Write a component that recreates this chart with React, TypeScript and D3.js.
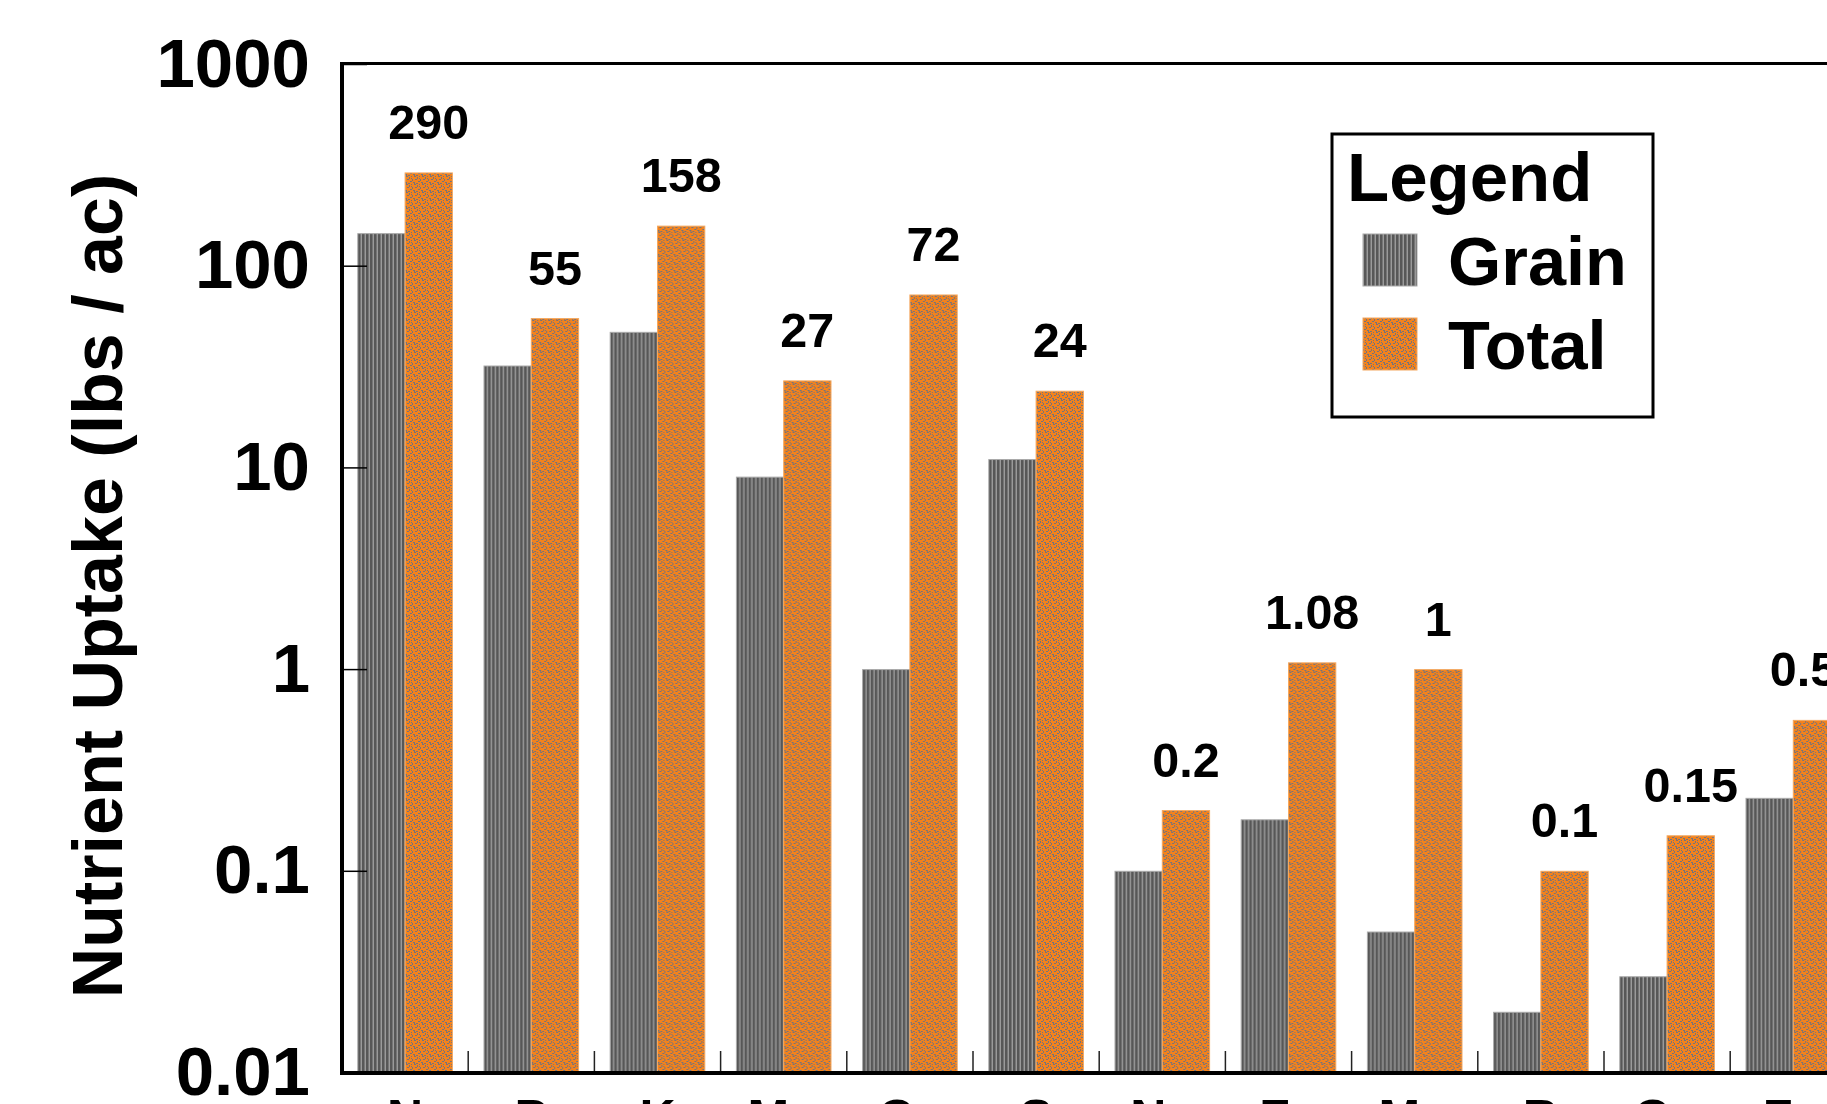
import React from "react";
import * as d3 from "d3";

// Nutrient uptake per element (lbs / ac), grain portion and whole-plant total
const categories = ["N", "P", "K", "Mg", "Ca", "S", "Na", "Fe", "Mn", "B", "Cu", "Zn"];
const grainValues = [145, 32, 47, 9, 1, 11, 0.1, 0.18, 0.05, 0.02, 0.03, 0.23];
const totalValues = [290, 55, 158, 27, 72, 24, 0.2, 1.08, 1, 0.1, 0.15, 0.56];
const seriesNames = ["Grain", "Total"];
const yTickValues = [1000, 100, 10, 1, 0.1, 0.01];
const yTickLabels = ["1000", "100", "10", "1", "0.1", "0.01"];

const W = 1827;
const H = 1104;
const FONT = "'Liberation Sans', Arial, Helvetica, sans-serif";

export default function App() {
  const left = 342;
  const step = 126.2;
  const x0 = d3
    .scaleBand<string>()
    .domain(categories)
    .range([left, left + step * categories.length])
    .padding(0);
  const x1 = d3
    .scaleBand<string>()
    .domain(seriesNames)
    .range([0, x0.bandwidth()])
    .paddingInner(0)
    .paddingOuter(0.334);
  const y = d3.scaleLog().domain([0.01, 1000]).range([1073, 64.5]);

  const plotRight = left + step * categories.length;
  const yTop = y(1000);
  const yBottom = y(0.01);

  const fills: Record<string, string> = { Grain: "url(#grainPat)", Total: "url(#totalPat)" };
  const edges: Record<string, string> = { Grain: "#a8a8a8", Total: "#f3a860" };

  const specks = [
    [0, 0, 2, 1], [3, 1, 1, 2], [5, 0, 1, 1], [1, 3, 2, 1], [6, 3, 1, 2],
    [4, 5, 2, 1], [0, 6, 1, 2], [2, 7, 2, 1], [7, 6, 1, 1], [5, 2, 1, 1],
  ];

  return (
    <svg
      width={W}
      height={H}
      style={{ position: "absolute", left: 0, top: 0, background: "#fff" }}
      fontFamily={FONT}
    >
      <defs>
        <pattern id="grainPat" width={4} height={4} patternUnits="userSpaceOnUse">
          <rect width={4} height={4} fill="#9a9a9a" shapeRendering="crispEdges" />
          <rect x={0} width={2} height={4} fill="#575757" shapeRendering="crispEdges" />
          <rect x={2} width={1} height={4} fill="#767676" shapeRendering="crispEdges" />
        </pattern>
        <pattern id="totalPat" width={8} height={8} patternUnits="userSpaceOnUse">
          <rect width={8} height={8} fill="#f3821c" shapeRendering="crispEdges" />
          {specks.map(([sx, sy, sw, sh], i) => (
            <rect key={i} x={sx} y={sy} width={sw} height={sh} fill="#76737a" shapeRendering="crispEdges" />
          ))}
        </pattern>
      </defs>

      {/* bars */}
      {categories.map((c, i) => {
        const vals: Record<string, number> = { Grain: grainValues[i], Total: totalValues[i] };
        return (
          <g key={c} transform={`translate(${x0(c)},0)`}>
            {seriesNames.map((s) => (
              <rect
                key={s}
                x={x1(s)}
                y={y(vals[s])}
                width={x1.bandwidth()}
                height={yBottom - y(vals[s])}
                fill={fills[s]}
                stroke={edges[s]}
                strokeWidth={1}
              />
            ))}
          </g>
        );
      })}

      {/* value labels above the total bars */}
      {categories.map((c, i) => (
        <text
          key={c}
          x={(x0(c) as number) + (x1("Total") as number) + x1.bandwidth() / 2}
          y={y(totalValues[i]) - 34}
          textAnchor="middle"
          fontSize={48.5}
          fontWeight="bold"
          fill="#000"
        >
          {String(totalValues[i])}
        </text>
      ))}

      {/* y ticks, pointing inward */}
      {yTickValues.map((v) => (
        <line key={v} x1={left} x2={left + 25} y1={y(v)} y2={y(v)} stroke="#000" strokeWidth={1.5} />
      ))}
      {/* x ticks at group boundaries */}
      {categories.slice(1).map((c) => (
        <line
          key={c}
          x1={x0(c)}
          x2={x0(c)}
          y1={yBottom - 22}
          y2={yBottom}
          stroke="#222"
          strokeWidth={1.5}
        />
      ))}

      {/* frame */}
      <line x1={left - 1.5} x2={plotRight} y1={yTop - 1} y2={yTop - 1} stroke="#000" strokeWidth={3} />
      <line x1={left} x2={left} y1={yTop - 2.5} y2={yBottom + 2} stroke="#000" strokeWidth={4} />
      <line x1={left - 2} x2={plotRight} y1={yBottom} y2={yBottom} stroke="#000" strokeWidth={4} />

      {/* y tick labels */}
      {yTickValues.map((v, i) => (
        <text key={v} x={310} y={y(v) + 22} textAnchor="end" fontSize={69} fontWeight="bold" fill="#000">
          {yTickLabels[i]}
        </text>
      ))}

      {/* x category labels */}
      {categories.map((c) => (
        <text
          key={c}
          x={(x0(c) as number) + x0.bandwidth() / 2}
          y={1135}
          textAnchor="middle"
          fontSize={50}
          fontWeight="bold"
          fill="#000"
        >
          {c}
        </text>
      ))}

      {/* y axis title */}
      <text
        transform={`translate(122,586) rotate(-90)`}
        textAnchor="middle"
        fontSize={70}
        fontWeight="bold"
        fill="#000"
      >
        Nutrient Uptake (lbs / ac)
      </text>

      {/* legend */}
      <g>
        <rect x={1332} y={134} width={321} height={283} fill="#fff" stroke="#000" strokeWidth={3} />
        <text x={1347} y={201} fontSize={69} fontWeight="bold" fill="#000">
          Legend
        </text>
        {seriesNames.map((s, i) => (
          <g key={s} transform={`translate(0,${i * 84})`}>
            <rect x={1363} y={234} width={54} height={52} fill={fills[s]} stroke={edges[s]} strokeWidth={1} />
            <text x={1448} y={285} fontSize={68.5} fontWeight="bold" fill="#000">
              {s}
            </text>
          </g>
        ))}
      </g>
    </svg>
  );
}
